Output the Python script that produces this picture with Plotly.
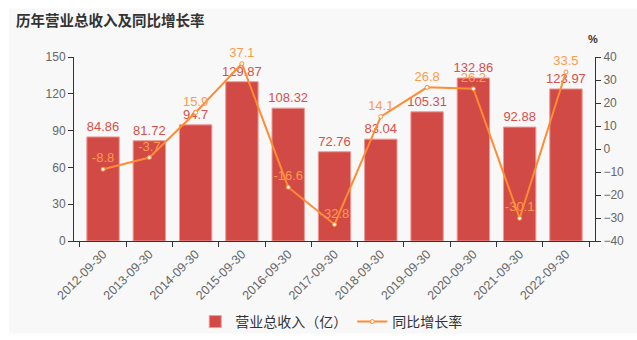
import plotly.graph_objects as go

categories = ["2012-09-30", "2013-09-30", "2014-09-30", "2015-09-30", "2016-09-30",
              "2017-09-30", "2018-09-30", "2019-09-30", "2020-09-30", "2021-09-30", "2022-09-30"]
revenue = [84.86, 81.72, 94.7, 129.87, 108.32, 72.76, 83.04, 105.31, 132.86, 92.88, 123.97]
growth = [-8.8, -3.7, 15.9, 37.1, -16.6, -32.8, 14.1, 26.8, 26.2, -30.1, 33.5]
left_ticks = [0, 30, 60, 90, 120, 150]
right_ticks = [-40, -30, -20, -10, 0, 10, 20, 30, 40]

FONT = "Liberation Sans, Noto Sans CJK SC, sans-serif"
CJK = "Noto Sans CJK SC, sans-serif"
BAR = "#d24a45"
LINE = "#ff8c33"

fig = go.Figure()
fig.add_trace(go.Bar(
    x=categories, y=revenue, name="营业总收入（亿）",
    marker=dict(color=BAR, line=dict(color="#ee9a96", width=1)),
    text=[f"{v:g}" for v in revenue], textposition="outside",
    textfont=dict(color="#d6504b", size=13, family=FONT),
    constraintext="none",
    cliponaxis=False, width=0.7,
))
fig.add_trace(go.Scatter(
    x=categories, y=growth, name="同比增长率", yaxis="y2",
    mode="lines+markers+text",
    line=dict(color=LINE, width=2),
    marker=dict(color="white", size=4, line=dict(color=LINE, width=1)),
    text=[f"{v:g}" for v in growth], textposition="top center",
    textfont=dict(color="#ff9a4d", size=13, family=FONT),
    cliponaxis=False,
))

L, R, T, B = 74, 42.3, 57.3, 99.3
W, H = 637, 340
pw, ph = W - L - R, H - T - B

fig.add_shape(type="rect", xref="paper", yref="paper",
              x0=(9 - L) / pw, x1=(637 - L) / pw,
              y0=(H - B - 333) / ph, y1=(H - B - 9) / ph,
              fillcolor="#f8f8f8", line=dict(width=0), layer="below")

fig.add_annotation(text="<b>历年营业总收入及同比增长率</b>", xref="paper", yref="paper",
                   x=(14 - L) / pw, y=(H - B - 20) / ph, xanchor="left", yanchor="middle",
                   showarrow=False, font=dict(size=14.5, color="#333333", family=CJK))
fig.add_annotation(text="<b>%</b>", xref="paper", yref="paper",
                   x=(593 - L) / pw, y=(H - B - 39) / ph, xanchor="center", yanchor="middle",
                   showarrow=False, font=dict(size=11, color="#333333", family=FONT))

fig.update_layout(
    width=W, height=H,
    margin=dict(l=L, r=R, t=T, b=B, pad=0, autoexpand=False),
    paper_bgcolor="white", plot_bgcolor="rgba(0,0,0,0)",
    font=dict(family=FONT, color="#666666"),
    showlegend=True,
    legend=dict(orientation="h", x=0.52, xanchor="center", xref="container",
                y=(340 - 322) / 340, yref="container", yanchor="middle",
                font=dict(size=14, color="#333333", family=CJK),
                bgcolor="rgba(0,0,0,0)"),
    bargap=0.3,
    xaxis=dict(type="category", tickangle=-45, tickson="boundaries", automargin=False,
               ticks="outside", ticklen=5, tickcolor="#333333",
               showline=True, linecolor="#333333", linewidth=1,
               showgrid=False, tickfont=dict(size=12.5, color="#666666")),
    yaxis=dict(range=[0, 150], tickvals=left_ticks, showgrid=False, automargin=False,
               showline=True, linecolor="#333333", linewidth=1,
               ticks="outside", ticklen=5, tickcolor="#333333",
               tickfont=dict(size=12, color="#666666"), zeroline=False),
    yaxis2=dict(range=[-40, 40], tickvals=right_ticks, overlaying="y", side="right",
                automargin=False,
                showgrid=False, showline=True, linecolor="#333333", linewidth=1,
                ticks="outside", ticklen=5, tickcolor="#333333",
                tickfont=dict(size=12, color="#666666"), zeroline=False),
)

fig.write_html("out.html")
